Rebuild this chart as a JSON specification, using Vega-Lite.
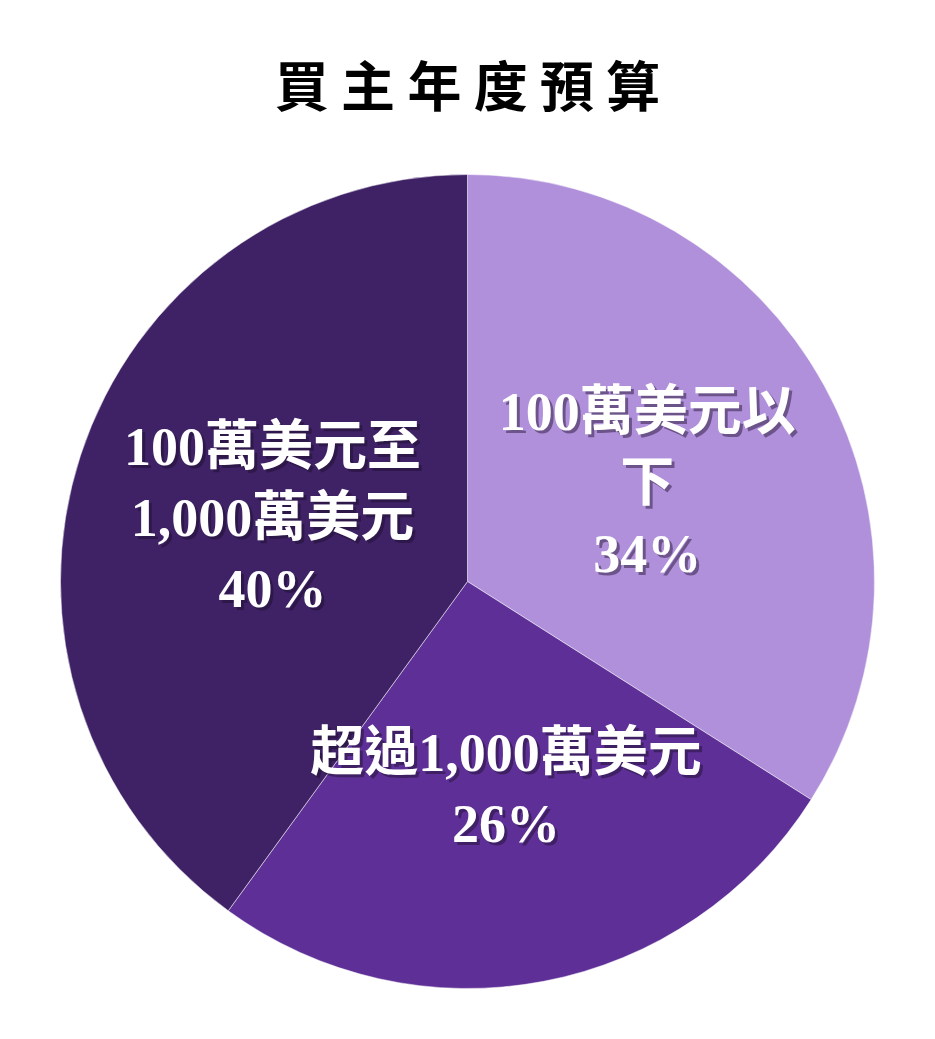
{
  "$schema": "https://vega.github.io/schema/vega-lite/v6.json",
  "autosize": {"type": "fit", "contains": "padding"},
  "width": 935,
  "height": 1039,
  "padding": {"top": 64, "bottom": 14, "left": 0, "right": 0},
  "background": "white",
  "title": {
    "text": "買 主 年 度 預 算",
    "font": "Noto Sans CJK TC",
    "fontSize": 54,
    "fontWeight": "bold",
    "color": "black",
    "anchor": "middle",
    "offset": 20
  },
  "data": {
    "values": [
      {"category": "100萬美元以下", "label3": "100萬美元以\n下\n34%", "label2": "", "value": 34, "order": 1},
      {"category": "超過1,000萬美元", "label3": "", "label2": "超過1,000萬美元\n26%", "value": 26, "order": 2},
      {"category": "100萬美元至1,000萬美元", "label3": "100萬美元至\n1,000萬美元\n40%", "label2": "", "value": 40, "order": 3}
    ]
  },
  "encoding": {
    "theta": {"field": "value", "type": "quantitative", "stack": true},
    "order": {"field": "order", "type": "quantitative"}
  },
  "layer": [
    {
      "mark": {"type": "arc", "radius": 407, "stroke": "#ffffff", "strokeWidth": 0.5},
      "encoding": {
        "color": {
          "field": "category",
          "type": "nominal",
          "scale": {
            "domain": ["100萬美元以下", "超過1,000萬美元", "100萬美元至1,000萬美元"],
            "range": ["#B08FDB", "#5E3097", "#3F2266"]
          },
          "legend": null
        }
      }
    },
    {
      "mark": {
        "type": "text", "radius": 205, "dx": 3, "dy": -66, "lineBreak": "\n", "lineHeight": 71,
        "font": "Liberation Serif, Noto Sans CJK TC", "fontSize": 54, "fontWeight": "bold",
        "color": "#1a0d2a", "opacity": 0.45
      },
      "encoding": {"text": {"field": "label3"}}
    },
    {
      "mark": {
        "type": "text", "radius": 205, "dx": 3, "dy": -25, "lineBreak": "\n", "lineHeight": 71,
        "font": "Liberation Serif, Noto Sans CJK TC", "fontSize": 54, "fontWeight": "bold",
        "color": "#1a0d2a", "opacity": 0.45
      },
      "encoding": {"text": {"field": "label2"}}
    },
    {
      "mark": {
        "type": "text", "radius": 205, "dy": -69, "lineBreak": "\n", "lineHeight": 71,
        "font": "Liberation Serif, Noto Sans CJK TC", "fontSize": 54, "fontWeight": "bold",
        "color": "white"
      },
      "encoding": {"text": {"field": "label3"}}
    },
    {
      "mark": {
        "type": "text", "radius": 205, "dy": -28, "lineBreak": "\n", "lineHeight": 71,
        "font": "Liberation Serif, Noto Sans CJK TC", "fontSize": 54, "fontWeight": "bold",
        "color": "white"
      },
      "encoding": {"text": {"field": "label2"}}
    }
  ]
}
